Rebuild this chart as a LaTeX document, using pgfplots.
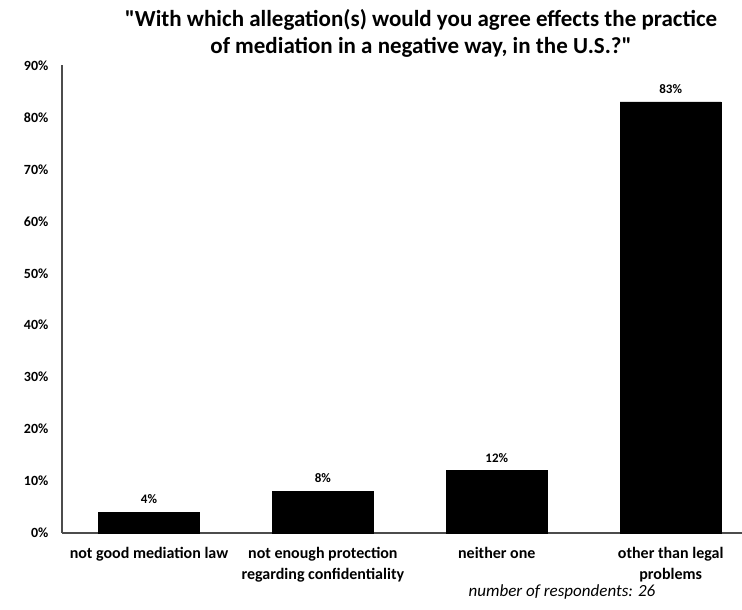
\documentclass[border=0pt]{standalone}
\usepackage{pgfplots}
\pgfplotsset{compat=1.18}
\usepackage{fontspec}
\setmainfont{Carlito}
\begin{document}
\begin{tikzpicture}[x=1pt,y=1pt]
\useasboundingbox (0,0) rectangle (742,610);
\begin{axis}[
  at={(62pt,77pt)}, anchor=south west,
  scale only axis, width=680pt, height=467.5pt,
  xmin=-0.5, xmax=3.41, ymin=0, ymax=90,
  axis x line=bottom, axis y line=left,
  axis line style={-, draw=black!70, line width=1.2pt},
  tick style={draw=none},
  ytick={0,10,20,30,40,50,60,70,80,90},
  yticklabels={0\%,10\%,20\%,30\%,40\%,50\%,60\%,70\%,80\%,90\%},
  yticklabel style={font=\fontsize{14}{16}\selectfont\bfseries, xshift=-8pt},
  xtick=data,
  xticklabels={not good mediation law,
               {not enough protection\\regarding confidentiality},
               neither one,
               {other than legal\\problems}},
  xticklabel style={font=\fontsize{16}{21}\selectfont\bfseries, align=center, yshift=-6pt},
  ybar, bar width=101pt,
  nodes near coords={\pgfmathprintnumber{\pgfplotspointmeta}\%},
  /pgf/number format/assume math mode=true,
  every node near coord/.append style={font=\fontsize{13}{15}\selectfont\bfseries, yshift=5pt},
  clip=false,
]
\addplot[fill=black, draw=black] coordinates {(0,4) (1,8) (2,12) (3,83)};
\end{axis}
\node[align=center, font=\fontsize{23}{27}\selectfont\bfseries] at (421,576.5)
  {\textquotedbl With which allegation(s) would you agree effects the practice\\of mediation in a negative way, in the U.S.?\textquotedbl};
\node[font=\fontsize{17}{20}\selectfont\itshape] at (562,18) {number of respondents: 26};
\end{tikzpicture}
\end{document}
